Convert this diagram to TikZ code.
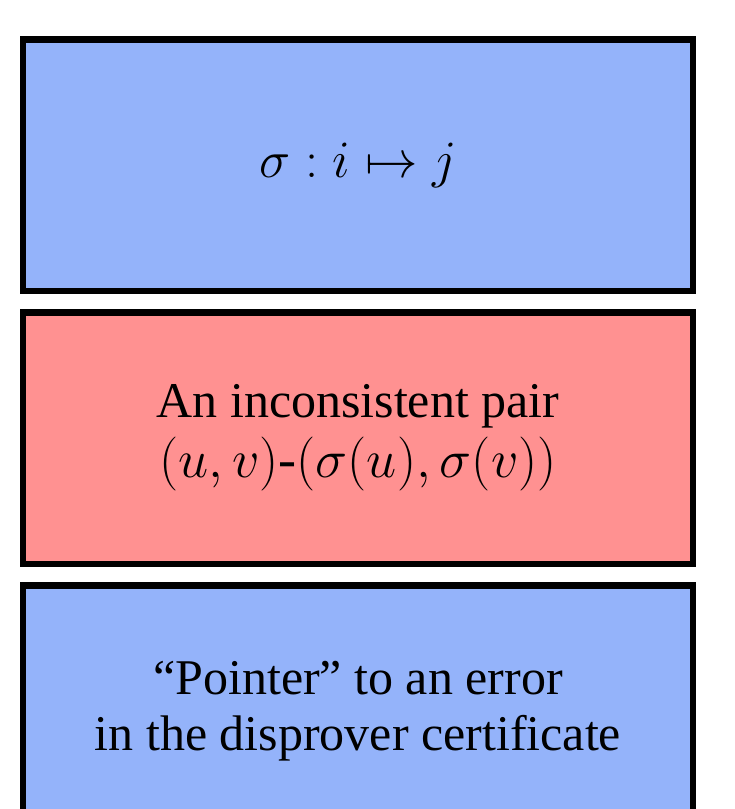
\RequirePackage{fix-cm}
\documentclass[tikz,border=0pt]{standalone}
\usepackage{fontspec}
\setmainfont{Liberation Serif}
\usepackage{amsmath}
\usetikzlibrary{positioning}
\definecolor{panelblue}{RGB}{148,179,250}
\definecolor{panelred}{RGB}{255,145,145}

\begin{document}
\begin{tikzpicture}[
  bbox/.style = {draw, line width=6.5pt, fill=panelblue, minimum width=669.5pt,
                 minimum height=251.5pt, align=center, inner sep=0pt,
                 font=\fontsize{50}{60}\selectfont},
  rbox/.style = {bbox, fill=panelred},
]
% ── three stacked panels ─────────────────────────────────────────────
\node[bbox, font=\fontsize{52.5}{60}\selectfont]
                                (perm)    {$\sigma : i \mapsto j$};
\node[rbox,  below=15pt of perm] (pair)    {An inconsistent pair\\
                                           {\fontsize{54}{60}\selectfont$(u,v)$-$(\sigma(u),\sigma(v))$}};
\node[bbox,  below=15pt of pair, font=\fontsize{50}{56}\selectfont]
                                (pointer) {``Pointer'' to an error\\in the disprover certificate};

% ── page frame (bottom panel runs off the page) ─────────────────────
\pgfresetboundingbox
\useasboundingbox ([xshift=-20pt, yshift=36pt]perm.north west) rectangle ++(735pt,-809pt);
\end{tikzpicture}
\end{document}
